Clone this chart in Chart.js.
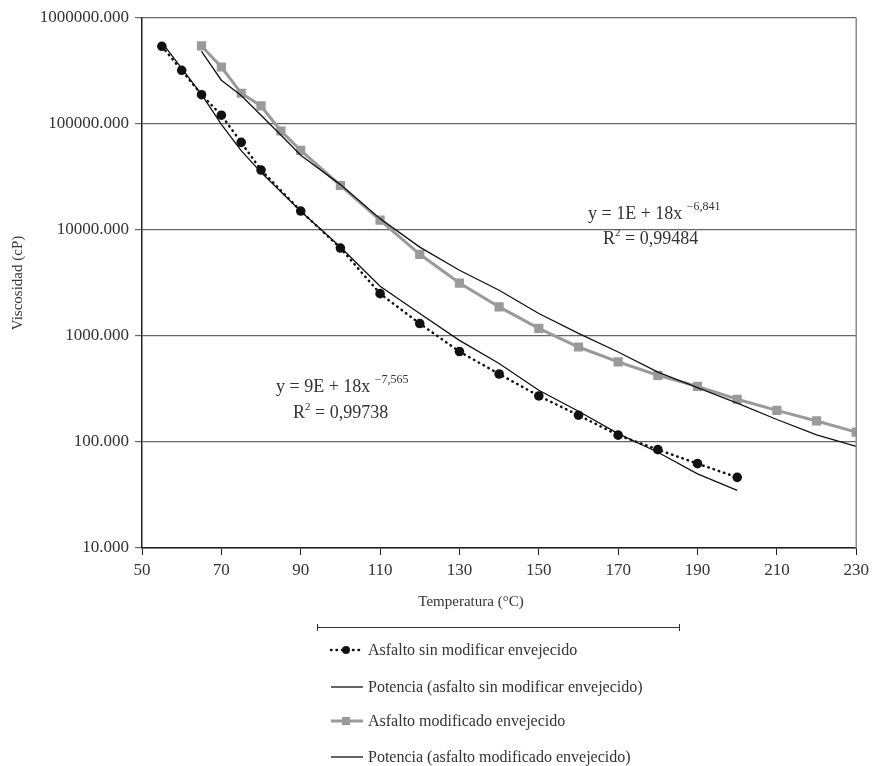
<!DOCTYPE html>
<html>
<head>
<meta charset="utf-8">
<script src="https://cdn.jsdelivr.net/npm/chart.js@4/dist/chart.umd.min.js"></script>
<style>
	body { margin: 0; background: #fff; }
	#wrap { width: 874px; height: 766px; position: relative; }
</style>
</head>
<body>
<div id="wrap"><canvas id="grafico-viscosidad"></canvas></div>
<script>
// temperatura (°C) y viscosidad (cP)
const tempSinMod = [55, 60, 65, 70, 75, 80, 90, 100, 110, 120, 130, 140, 150, 160, 170, 180, 190, 200];
const viscSinMod = [541000, 321000, 189000, 121000, 67100, 36800, 15100, 6760, 2510, 1310, 713, 438, 272, 179, 116, 84.7, 62.5, 46.4];
const potSinMod = [590000, 335000, 190000, 99000, 56000, 35000, 15000, 6900, 2950, 1630, 910, 550, 308, 195, 120, 80, 50, 35];

const tempMod = [65, 70, 75, 80, 85, 90, 100, 110, 120, 130, 140, 150, 160, 170, 180, 190, 200, 210, 220, 230];
const viscMod = [545000, 345000, 195000, 148000, 85900, 56500, 26300, 12400, 5900, 3160, 1880, 1180, 787, 569, 426, 335, 253, 199, 158, 124];
const potMod = [485000, 259000, 186000, 121000, 78700, 50700, 26800, 12800, 6900, 4170, 2700, 1630, 1060, 706, 457, 326, 233, 163, 117, 91];

const yTicks = [10, 100, 1000, 10000, 100000, 1000000];
const etiquetas = [
	'Asfalto sin modificar envejecido',
	'Potencia (asfalto sin modificar envejecido)',
	'Asfalto modificado envejecido',
	'Potencia (asfalto modificado envejecido)'
];
const ecuaciones = [
	{ main: 'y = 1E + 18x ', sup: '\u22126,841', r2: '0,99484', x: 588, y: 219, rx: 603, ry: 244 },
	{ main: 'y = 9E + 18x ', sup: '\u22127,565', r2: '0,99738', x: 276, y: 392, rx: 293, ry: 418 }
];

const FONT = '"Liberation Serif", "DejaVu Serif", serif';
const GRIS = '#9a9a9a';

const toPoints = (xs, ys) => xs.map((x, i) => ({ x: x, y: ys[i] }));

// textos, leyenda y borde derecho dibujados a mano
const extrasPlugin = {
	id: 'extras',
	afterDraw(chart) {
		const ctx = chart.ctx;
		const area = chart.chartArea;
		ctx.save();

		// borde derecho
		ctx.strokeStyle = '#8a8a8a';
		ctx.lineWidth = 1.5;
		ctx.beginPath();
		ctx.moveTo(area.right, area.top);
		ctx.lineTo(area.right, area.bottom);
		ctx.stroke();

		// titulos de ejes
		ctx.fillStyle = '#333';
		ctx.font = '15px ' + FONT;
		ctx.textAlign = 'center';
		ctx.textBaseline = 'middle';
		ctx.fillText('Temperatura (\u00B0C)', 471, 602);
		ctx.save();
		ctx.translate(18, (area.top + area.bottom) / 2);
		ctx.rotate(-Math.PI / 2);
		ctx.fillText('Viscosidad (cP)', 0, 0);
		ctx.restore();

		// ecuaciones
		ctx.textAlign = 'left';
		ctx.textBaseline = 'alphabetic';
		ecuaciones.forEach(e => {
			ctx.font = '18px ' + FONT;
			ctx.fillText(e.main, e.x, e.y);
			let w = ctx.measureText(e.main).width;
			ctx.font = '12px ' + FONT;
			ctx.fillText(e.sup, e.x + w, e.y - 9);
			ctx.font = '18px ' + FONT;
			ctx.fillText('R', e.rx, e.ry);
			let wr = ctx.measureText('R').width;
			ctx.font = '11px ' + FONT;
			ctx.fillText('2', e.rx + wr, e.ry - 8);
			let w2 = ctx.measureText('2').width;
			ctx.font = '18px ' + FONT;
			ctx.fillText(' = ' + e.r2, e.rx + wr + w2, e.ry);
		});

		// linea sobre la leyenda
		ctx.strokeStyle = '#333';
		ctx.lineWidth = 1;
		ctx.beginPath();
		ctx.moveTo(317, 627.5);
		ctx.lineTo(680, 627.5);
		ctx.moveTo(317.5, 624);
		ctx.lineTo(317.5, 631);
		ctx.moveTo(679.5, 624);
		ctx.lineTo(679.5, 631);
		ctx.stroke();

		// leyenda
		const filas = [650, 687, 721, 757];
		chart.data.datasets.forEach((ds, i) => {
			const y = filas[i];
			ctx.save();
			ctx.strokeStyle = ds.borderColor;
			ctx.lineWidth = ds.borderWidth;
			ctx.lineCap = ds.borderCapStyle || 'butt';
			ctx.setLineDash(ds.borderDash || []);
			ctx.beginPath();
			ctx.moveTo(331, y);
			ctx.lineTo(363, y);
			ctx.stroke();
			ctx.setLineDash([]);
			ctx.fillStyle = ds.pointBackgroundColor;
			if (ds.pointStyle === 'circle' && ds.pointRadius > 0) {
				ctx.beginPath();
				ctx.arc(346, y, 4, 0, Math.PI * 2);
				ctx.fill();
			} else if (ds.pointStyle === 'rect' && ds.pointRadius > 0) {
				ctx.fillRect(342, y - 4, 8, 8);
			}
			ctx.restore();
			ctx.fillStyle = '#333';
			ctx.font = '16px ' + FONT;
			ctx.textBaseline = 'middle';
			ctx.fillText(etiquetas[i], 368, y + 1);
		});
		ctx.restore();
	}
};

new Chart(document.getElementById('grafico-viscosidad'), {
	type: 'line',
	data: {
		datasets: [{
			label: etiquetas[0],
			data: toPoints(tempSinMod, viscSinMod),
			borderColor: '#111',
			borderWidth: 2.5,
			borderDash: [0.5, 5],
			borderCapStyle: 'round',
			pointStyle: 'circle',
			pointRadius: 4.8,
			pointBackgroundColor: '#111',
			pointBorderColor: '#111',
			pointBorderWidth: 0,
			order: 2
		}, {
			label: etiquetas[1],
			data: toPoints(tempSinMod, potSinMod),
			borderColor: '#111',
			borderWidth: 1.3,
			pointRadius: 0,
			pointStyle: false,
			pointBackgroundColor: '#111',
			order: 1
		}, {
			label: etiquetas[2],
			data: toPoints(tempMod, viscMod),
			borderColor: GRIS,
			borderWidth: 3,
			pointStyle: 'rect',
			pointRadius: 6.5,
			pointBackgroundColor: GRIS,
			pointBorderColor: GRIS,
			pointBorderWidth: 0,
			order: 4
		}, {
			label: etiquetas[3],
			data: toPoints(tempMod, potMod),
			borderColor: '#111',
			borderWidth: 1.3,
			pointRadius: 0,
			pointStyle: false,
			pointBackgroundColor: '#111',
			order: 3
		}]
	},
	options: {
		responsive: true,
		maintainAspectRatio: false,
		animation: false,
		layout: { padding: { left: 0, right: 17, top: 18, bottom: 0 } },
		plugins: {
			legend: { display: false },
			tooltip: { enabled: false }
		},
		scales: {
			x: {
				type: 'linear',
				min: 50,
				max: 230,
				afterFit: (scale) => { scale.height = 766 - 548; },
				ticks: {
					stepSize: 20,
					color: '#333',
					padding: 5,
					font: { family: FONT, size: 17 },
					maxRotation: 0
				},
				grid: { drawOnChartArea: false, drawTicks: true, tickLength: 7, color: '#222', lineWidth: 1 },
				border: { color: '#222', width: 1.5 }
			},
			y: {
				type: 'logarithmic',
				min: 10,
				max: 1000000,
				afterFit: (scale) => { scale.width = 142; },
				afterBuildTicks: (scale) => { scale.ticks = yTicks.map(v => ({ value: v })); },
				ticks: {
					color: '#333',
					padding: 6,
					font: { family: FONT, size: 17 },
					callback: (value) => Number(value).toFixed(3)
				},
				grid: { color: '#666', lineWidth: 1.2, tickLength: 7 },
				border: { color: '#222', width: 1.5 }
			}
		}
	},
	plugins: [extrasPlugin]
});
</script>
</body>
</html>
